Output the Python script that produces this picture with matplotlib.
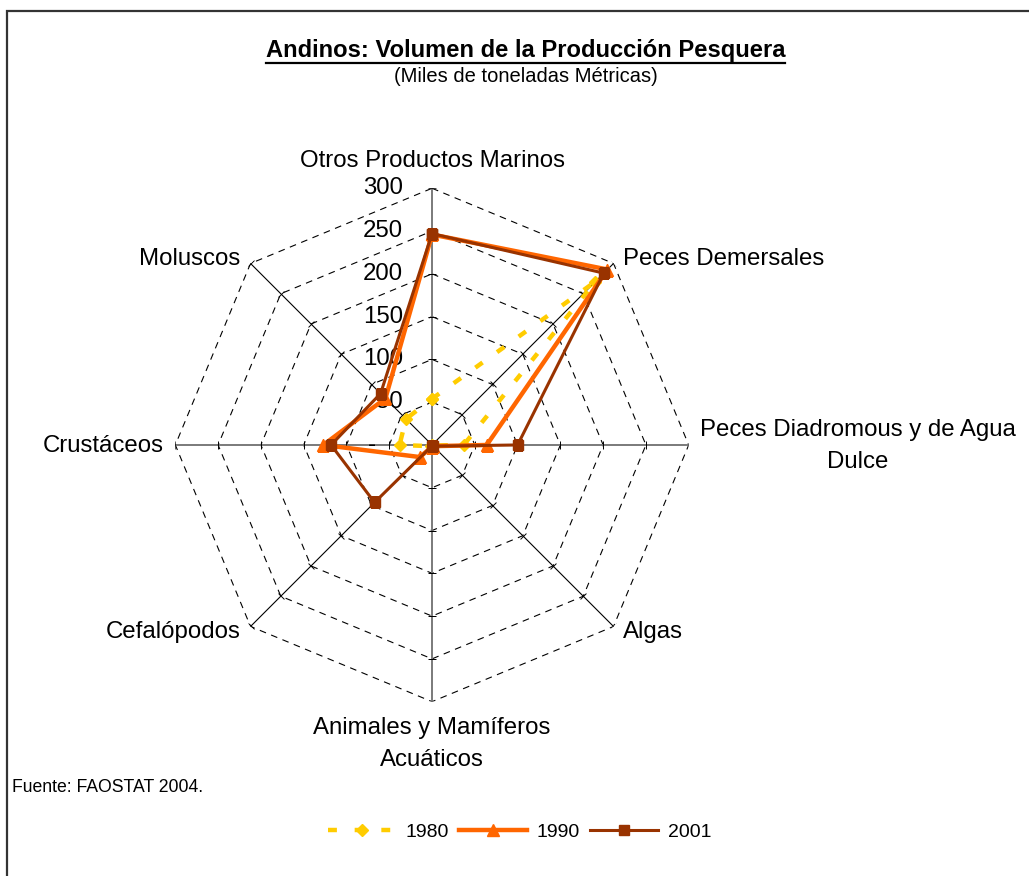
import matplotlib
matplotlib.use('Agg')
import matplotlib.pyplot as plt
import numpy as np
from matplotlib.lines import Line2D
from matplotlib.patches import Rectangle

plt.rcParams['font.family'] = ['Liberation Sans', 'DejaVu Sans']

# data (miles de toneladas métricas)
categories = ['Otros Productos Marinos', 'Peces Demersales',
              'Peces Diadromous y de Agua\nDulce', 'Algas',
              'Animales y Mamíferos\nAcuáticos', 'Cefalópodos',
              'Crustáceos', 'Moluscos']
years = ['1980', '1990', '2001']
v1980 = [54, 270, 37, 1, 0, 2, 38, 43]
v1990 = [246, 290, 64, 2, 2, 20, 127, 77]
v2001 = [247, 284, 100, 2, 1, 95, 118, 85]
rings = [50, 100, 150, 200, 250, 300]
ring_labels = ['50', '100', '150', '200', '250', '300']

n = len(categories)
angles = np.linspace(0, 2 * np.pi, n, endpoint=False)
closed = np.append(angles, angles[0])

fig = plt.figure(figsize=(10.29, 8.76), dpi=100)
ax = fig.add_axes([0.1704, 0.199, 0.4989, 0.5861], projection='polar')
ax.set_theta_zero_location('N')
ax.set_theta_direction(-1)
ax.set_ylim(0, 300)
ax.axis('off')

# octagon grid
for r in rings:
    ax.plot(closed, [r] * (n + 1), color='black', lw=0.8, linestyle=(0, (6, 5)), zorder=1)
for i, a in enumerate(angles):
    cardinal = i % 2 == 0
    ax.plot([a, a], [0, 300], color='#707070' if cardinal else 'black',
            lw=1.3 if cardinal else 0.8, zorder=1)
    rot = 90 - np.degrees(a)
    ax.plot([a] * len(rings), rings, linestyle='none', marker=(2, 0, rot),
            ms=6, mec='black', mew=0.7, zorder=1)

# series
ax.plot(closed, v1980 + v1980[:1], color='#FFCC00', lw=3.2, linestyle=(0, (2, 4)),
        marker='D', ms=6, zorder=3)
ax.plot(closed, v1990 + v1990[:1], color='#FF6600', lw=3.2,
        marker='^', ms=8, zorder=4)
ax.plot(closed, v2001 + v2001[:1], color='#993300', lw=2.2,
        marker='s', ms=6.5, zorder=5)

# category labels
offsets = [(0, 27, 'center', 'center'), (9, 4, 'left', 'center'),
           (11, -1, 'left', 'center'), (9, -6, 'left', 'center'),
           (0, -15, 'center', 'top'), (-10, -6, 'right', 'center'),
           (-12, -1, 'right', 'center'), (-10, 4, 'right', 'center')]
for a, lab, (dx, dy, ha, va) in zip(angles, categories, offsets):
    ax.annotate(lab, xy=(a, 300), xytext=(dx, dy), textcoords='offset pixels',
                ha=ha, va=va, ma='center', fontsize=17.3, linespacing=1.6,
                annotation_clip=False)

# radial value labels
for r, lab in zip(rings, ring_labels):
    ax.annotate(lab, xy=(0, r), xytext=(-29, 0), textcoords='offset pixels',
                ha='right', va='center', fontsize=17.3)
ax.annotate('-', xy=(0, 0), xytext=(-56, 0), textcoords='offset pixels',
            ha='right', va='center', fontsize=17.3)

# titles
t = fig.text(0.5107, 1 - 50 / 876, 'Andinos: Volumen de la Producción Pesquera',
             ha='center', va='center', fontsize=17.1, fontweight='bold')
fig.text(0.5112, 1 - 77 / 876, '(Miles de toneladas Métricas)',
         ha='center', va='center', fontsize=14.5)
fig.text(12 / 1029, 1 - 788 / 876, 'Fuente: FAOSTAT 2004.',
         ha='left', va='center', fontsize=12.7)

fig.canvas.draw()
bb = t.get_window_extent().transformed(fig.transFigure.inverted())
fig.add_artist(Line2D([bb.x0, bb.x1], [bb.y0 - 0.002, bb.y0 - 0.002],
                      transform=fig.transFigure, color='black', lw=1.6))

# legend
handles = [Line2D([], [], color='#FFCC00', lw=3.2, linestyle=(0, (2, 4)), marker='D', ms=6),
           Line2D([], [], color='#FF6600', lw=3.2, marker='^', ms=8),
           Line2D([], [], color='#993300', lw=2.2, marker='s', ms=6.5)]
fig.legend(handles, years, loc='center', bbox_to_anchor=(0.505, 1 - 832 / 876),
           ncol=3, frameon=False, fontsize=14, handlelength=3.5,
           columnspacing=0.5, handletextpad=0.5)

# outer frame (only top and left edges visible)
fig.patches.append(Rectangle((7 / 1029, -0.5), 2, 1 - 11 / 876 + 0.5,
                             transform=fig.transFigure, fill=False,
                             ec='#333333', lw=1.6))

fig.savefig('out.png', dpi=100)
